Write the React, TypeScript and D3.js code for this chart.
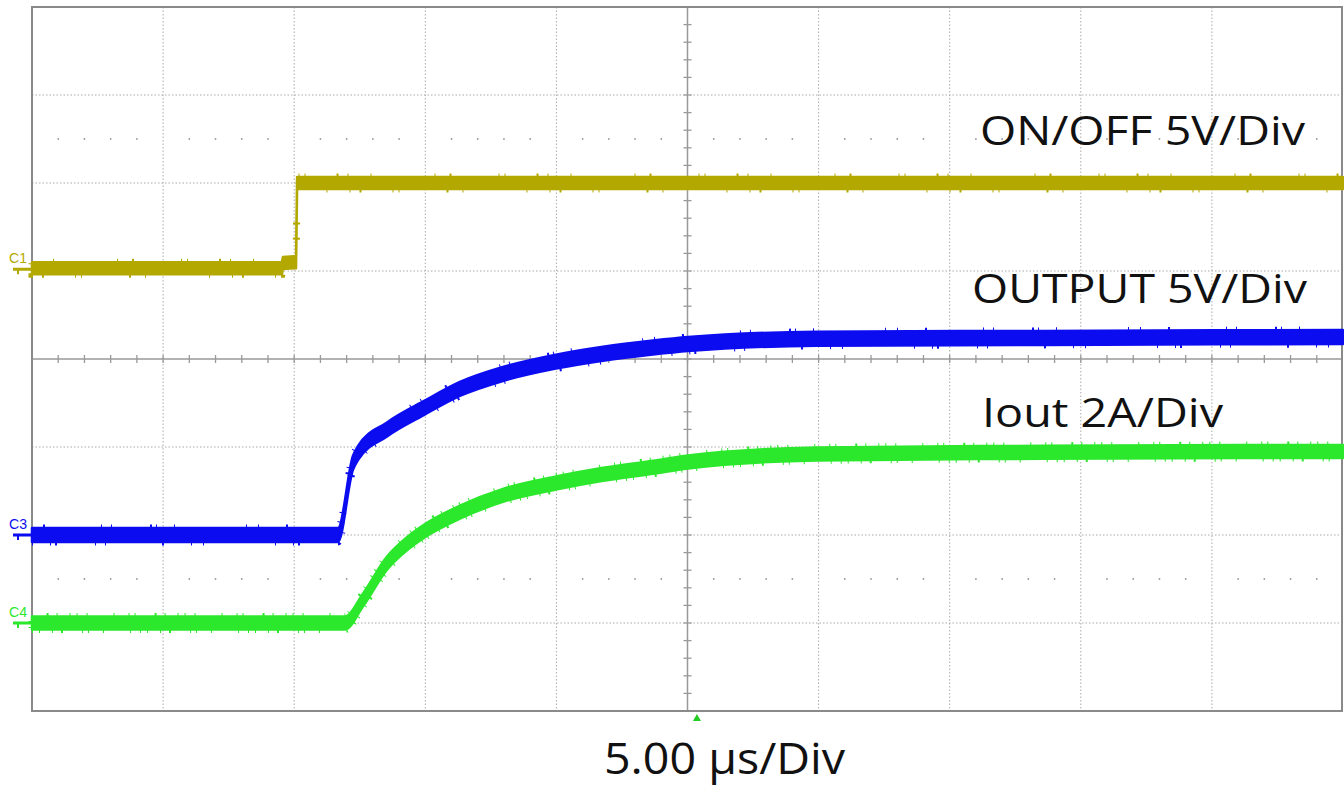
import React, { useEffect, useRef } from 'react';
import * as d3 from 'd3';

// time in µs (5 µs/div, trigger at centre), levels in screen divisions from centre
const c1Time = [-25, -15.47, -15.43, -15.0, -14.93, -14.89, 25];
const c1Level = [1.03, 1.03, 1.09, 1.1, 1.1, 2.0, 2.0];

const c3Time = [-25, -13.33, -12.76, -12.57, -11.46, -10.01, -8.68, -7.04, -5.02, -3.22, -1.32, 0.02, 4.94, 13.56, 25];
const c3Level = [-2.0, -2.0, -1.18, -1.07, -0.8, -0.55, -0.34, -0.17, -0.03, 0.06, 0.13, 0.17, 0.23, 0.24, 0.25];

const c4Time = [-25, -13.06, -12.38, -11.46, -10.7, -10.01, -8.68, -7.04, -5.02, -3.22, -1.32, 0.02, 4.94, 13.56, 25];
const c4Level = [-3.0, -3.0, -2.74, -2.32, -2.1, -1.95, -1.74, -1.55, -1.41, -1.31, -1.23, -1.17, -1.08, -1.06, -1.05];

const channelNames = ['C1', 'C3', 'C4'];
const channelOffsets = [1.02, -2.0, -3.0];
const channelColors = ['#b3a800', '#0c0cf0', '#2ce82c'];

const traceLabels = ['ON/OFF 5V/Div', 'OUTPUT 5V/Div', 'Iout 2A/Div'];
const timebaseLabel = '5.00 µs/Div';
const triggerTime = 0.36;

const App = () => {
  const svgRef = useRef<SVGSVGElement>(null);

  useEffect(() => {
    const svg = d3.select(svgRef.current);
    svg.selectAll('*').remove();

    const x = d3.scaleLinear().domain([-25, 25]).range([32, 1343]);
    const y = d3.scaleLinear().domain([-4, 4]).range([711, 7]);

    svg.append('rect').attr('width', 1344).attr('height', 787).attr('fill', '#fff');

    const grid = svg.append('g');
    // dotted division grid
    grid.selectAll('.vg')
      .data(d3.range(-20, 25, 5).filter(t => t !== 0))
      .enter().append('line')
      .attr('x1', d => x(d)).attr('x2', d => x(d))
      .attr('y1', y(4)).attr('y2', y(-4))
      .attr('stroke', '#aaa').attr('stroke-width', 1).attr('stroke-dasharray', '1.5,2');
    grid.selectAll('.hg')
      .data([-3, -2, -1, 1, 2, 3])
      .enter().append('line')
      .attr('x1', x(-25)).attr('x2', x(25))
      .attr('y1', d => y(d)).attr('y2', d => y(d))
      .attr('stroke', '#aaa').attr('stroke-width', 1).attr('stroke-dasharray', '1.5,2');

    // rise-time dot rows at ±2.5 div
    [2.5, -2.5].forEach(lv => {
      grid.selectAll(null)
        .data(d3.range(-24, 25, 1).filter(t => t % 5 !== 0))
        .enter().append('circle')
        .attr('cx', d => x(d)).attr('cy', y(lv)).attr('r', 0.9)
        .attr('fill', '#999');
    });

    // centre crosshair with minor ticks
    grid.append('line')
      .attr('x1', x(-25)).attr('x2', x(25)).attr('y1', y(0)).attr('y2', y(0))
      .attr('stroke', '#999').attr('stroke-width', 1.5);
    grid.append('line')
      .attr('x1', x(0)).attr('x2', x(0)).attr('y1', y(4)).attr('y2', y(-4))
      .attr('stroke', '#999').attr('stroke-width', 1.5);
    grid.selectAll('.xt')
      .data(d3.range(-24, 25, 1))
      .enter().append('line')
      .attr('x1', d => x(d)).attr('x2', d => x(d))
      .attr('y1', y(0) - 4).attr('y2', y(0) + 4)
      .attr('stroke', '#999').attr('stroke-width', 1.3);
    grid.selectAll('.yt')
      .data(d3.range(-3.8, 4, 0.2))
      .enter().append('line')
      .attr('x1', x(0) - 4).attr('x2', x(0) + 4)
      .attr('y1', d => y(d)).attr('y2', d => y(d))
      .attr('stroke', '#999').attr('stroke-width', 1.3);

    // border
    svg.append('rect')
      .attr('x', x(-25)).attr('y', y(4))
      .attr('width', x(25) - x(-25) - 1).attr('height', y(-4) - y(4))
      .attr('fill', 'none').attr('stroke', '#8a8a8a').attr('stroke-width', 2);

    // traces: vertical noise band (area) with dashed outline for spikes
    const traces = [
      { t: c1Time, v: c1Level, curve: d3.curveLinear, h: 12 },
      { t: c3Time, v: c3Level, curve: d3.curveMonotoneX, h: 14 },
      { t: c4Time, v: c4Level, curve: d3.curveMonotoneX, h: 13 },
    ];
    const spikeDash = [
      '1,9,2,31,1,5,1,47,2,14,1,63,1,22',
      '1,17,1,4,2,38,1,9,1,56,2,27,1,11,1,71',
      '1,6,1,12,1,8,2,19,1,5,1,14,1,26,1,9',
    ];
    const plot = svg.append('g');
    traces.forEach((tr, i) => {
      const pts = tr.t.map((t, k) => [t, tr.v[k]] as [number, number]);
      const area = d3.area<[number, number]>()
        .x(d => x(d[0]))
        .y0(d => y(d[1]) - tr.h / 2)
        .y1(d => y(d[1]) + tr.h / 2)
        .curve(tr.curve);
      plot.append('path')
        .attr('d', area(pts))
        .attr('fill', channelColors[i])
        .attr('stroke', channelColors[i])
        .attr('stroke-width', 2.5)
        .attr('stroke-linejoin', 'round');
      plot.append('path')
        .attr('d', area(pts))
        .attr('fill', 'none')
        .attr('stroke', channelColors[i])
        .attr('stroke-width', 7)
        .attr('stroke-dasharray', spikeDash[i]);
    });

    // channel ground markers
    channelNames.forEach((name, i) => {
      const yy = y(channelOffsets[i]);
      svg.append('text')
        .attr('x', 9).attr('y', yy - 6)
        .attr('font-family', 'Liberation Sans, Arial, sans-serif')
        .attr('font-size', 15)
        .attr('textLength', 18)
        .attr('lengthAdjust', 'spacingAndGlyphs')
        .attr('fill', channelColors[i])
        .text(name);
      svg.append('rect')
        .attr('x', 13).attr('y', yy - 1.5).attr('width', 18).attr('height', 3)
        .attr('fill', channelColors[i]);
      svg.append('rect')
        .attr('x', 17).attr('y', yy).attr('width', 2).attr('height', 5)
        .attr('fill', channelColors[i]);
    });

    // trigger position marker
    const tx = x(triggerTime);
    svg.append('path')
      .attr('d', `M${tx - 4},${y(-4) + 10} L${tx},${y(-4) + 3} L${tx + 4},${y(-4) + 10} Z`)
      .attr('fill', '#22cc22');

    // labels
    const labelPos = [
      { x: 980, y: 145, w: 325 },
      { x: 972, y: 303, w: 335 },
      { x: 982, y: 427, w: 241 },
    ];
    traceLabels.forEach((lab, i) => {
      svg.append('text')
        .attr('x', labelPos[i].x).attr('y', labelPos[i].y)
        .attr('font-family', 'Open Sans, Noto Sans, sans-serif')
        .attr('font-size', 41)
        .attr('textLength', labelPos[i].w)
        .attr('lengthAdjust', 'spacingAndGlyphs')
        .attr('fill', '#111')
        .text(lab);
    });
    svg.append('text')
      .attr('x', 604).attr('y', 774)
      .attr('font-family', 'Open Sans, Noto Sans, sans-serif')
      .attr('font-size', 43)
      .attr('textLength', 241)
      .attr('lengthAdjust', 'spacingAndGlyphs')
      .attr('fill', '#111')
      .text(timebaseLabel);
  }, []);

  return (
    <svg ref={svgRef} width={1344} height={787}
      style={{ position: 'absolute', left: 0, top: 0, display: 'block' }} />
  );
};

export default App;
